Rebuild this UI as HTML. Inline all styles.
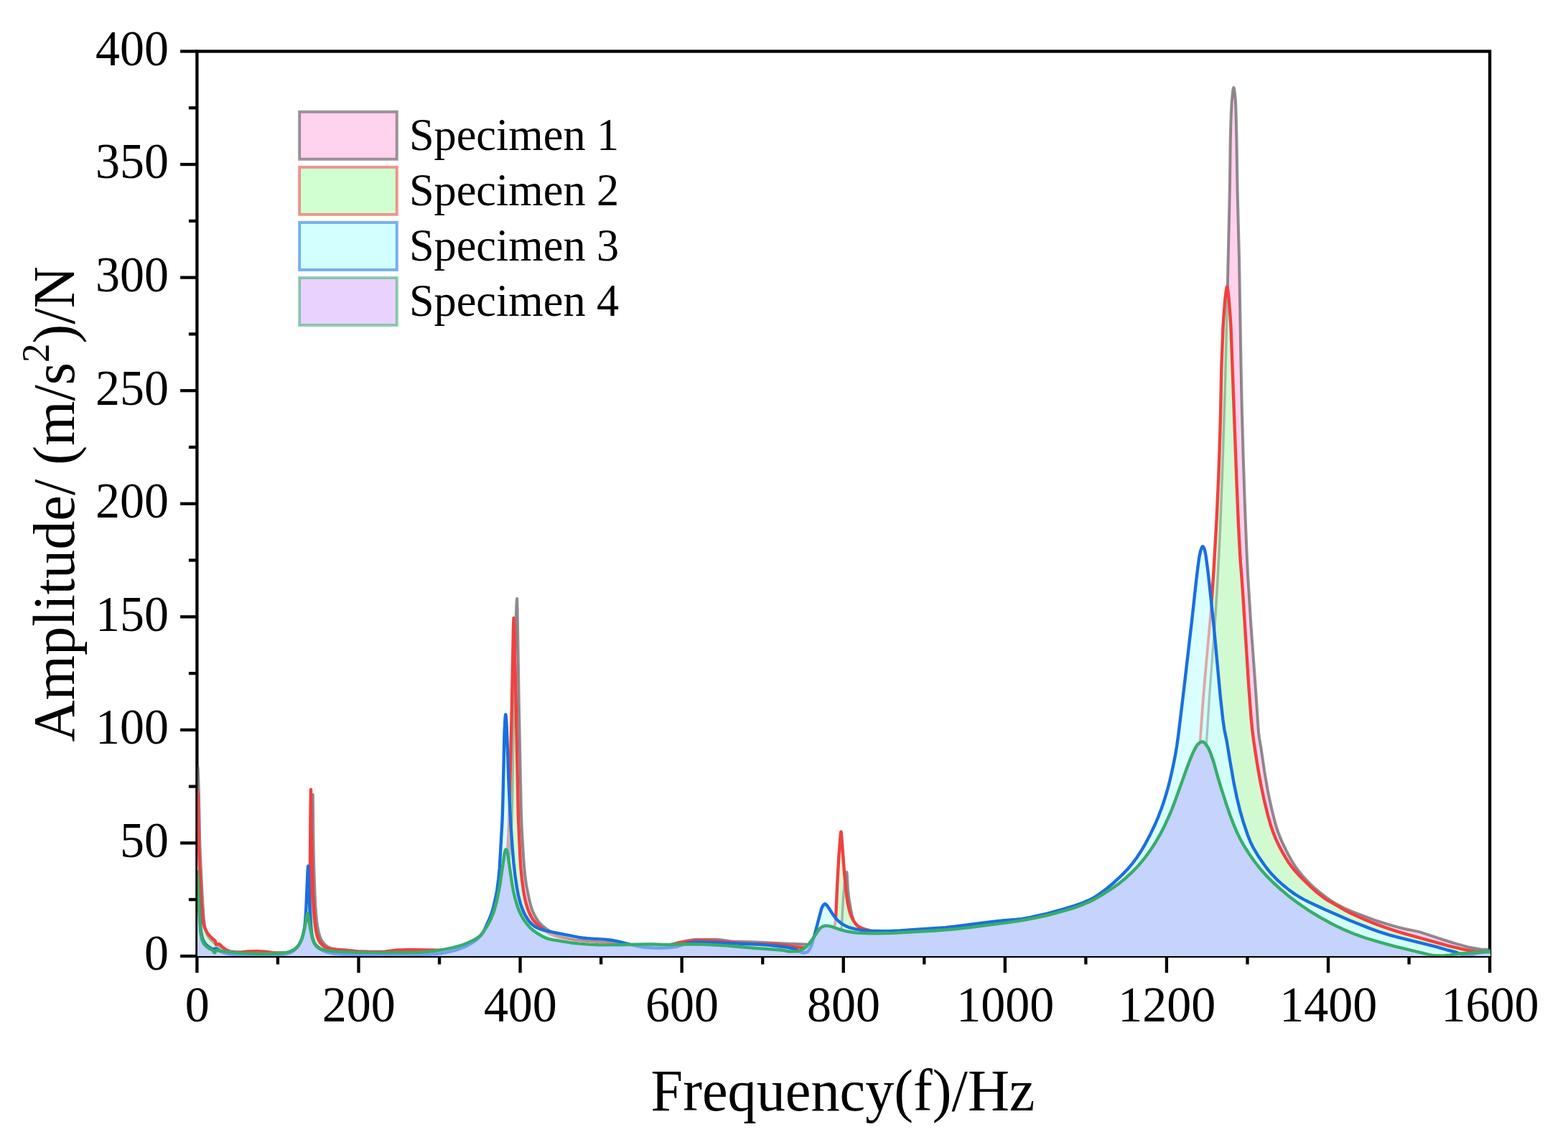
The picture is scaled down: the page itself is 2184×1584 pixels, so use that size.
<!DOCTYPE html>
<html><head><meta charset="utf-8"><title>Frequency response</title>
<style>html,body{margin:0;padding:0;background:#fff;}body{width:2184px;height:1584px;overflow:hidden;position:relative;}</style></head>
<body>
<svg width="2184" height="1584" viewBox="0 0 2184 1584" style="position:absolute;left:0;top:0">

<g stroke="#000" stroke-width="4.3" fill="none" stroke-linecap="butt">
<rect x="274.4" y="71.5" width="1800.70" height="1260.50"/>
<line x1="274.40" y1="1332.0" x2="274.40" y2="1355.30"/>
<line x1="386.94" y1="1332.0" x2="386.94" y2="1343.50"/>
<line x1="499.49" y1="1332.0" x2="499.49" y2="1355.30"/>
<line x1="612.03" y1="1332.0" x2="612.03" y2="1343.50"/>
<line x1="724.57" y1="1332.0" x2="724.57" y2="1355.30"/>
<line x1="837.12" y1="1332.0" x2="837.12" y2="1343.50"/>
<line x1="949.66" y1="1332.0" x2="949.66" y2="1355.30"/>
<line x1="1062.21" y1="1332.0" x2="1062.21" y2="1343.50"/>
<line x1="1174.75" y1="1332.0" x2="1174.75" y2="1355.30"/>
<line x1="1287.29" y1="1332.0" x2="1287.29" y2="1343.50"/>
<line x1="1399.84" y1="1332.0" x2="1399.84" y2="1355.30"/>
<line x1="1512.38" y1="1332.0" x2="1512.38" y2="1343.50"/>
<line x1="1624.93" y1="1332.0" x2="1624.93" y2="1355.30"/>
<line x1="1737.47" y1="1332.0" x2="1737.47" y2="1343.50"/>
<line x1="1850.01" y1="1332.0" x2="1850.01" y2="1355.30"/>
<line x1="1962.56" y1="1332.0" x2="1962.56" y2="1343.50"/>
<line x1="2075.10" y1="1332.0" x2="2075.10" y2="1355.30"/>
<line x1="274.4" y1="1332.00" x2="251.10" y2="1332.00"/>
<line x1="274.4" y1="1253.22" x2="262.90" y2="1253.22"/>
<line x1="274.4" y1="1174.44" x2="251.10" y2="1174.44"/>
<line x1="274.4" y1="1095.66" x2="262.90" y2="1095.66"/>
<line x1="274.4" y1="1016.88" x2="251.10" y2="1016.88"/>
<line x1="274.4" y1="938.09" x2="262.90" y2="938.09"/>
<line x1="274.4" y1="859.31" x2="251.10" y2="859.31"/>
<line x1="274.4" y1="780.53" x2="262.90" y2="780.53"/>
<line x1="274.4" y1="701.75" x2="251.10" y2="701.75"/>
<line x1="274.4" y1="622.97" x2="262.90" y2="622.97"/>
<line x1="274.4" y1="544.19" x2="251.10" y2="544.19"/>
<line x1="274.4" y1="465.41" x2="262.90" y2="465.41"/>
<line x1="274.4" y1="386.62" x2="251.10" y2="386.62"/>
<line x1="274.4" y1="307.84" x2="262.90" y2="307.84"/>
<line x1="274.4" y1="229.06" x2="251.10" y2="229.06"/>
<line x1="274.4" y1="150.28" x2="262.90" y2="150.28"/>
<line x1="274.4" y1="71.50" x2="251.10" y2="71.50"/>
</g>
<text transform="translate(274.70,1423.30) scale(1,1.035)" font-family="'Liberation Serif', serif" font-size="68" text-anchor="middle" fill="#000">0</text>
<text transform="translate(499.79,1423.30) scale(1,1.035)" font-family="'Liberation Serif', serif" font-size="68" text-anchor="middle" fill="#000">200</text>
<text transform="translate(724.87,1423.30) scale(1,1.035)" font-family="'Liberation Serif', serif" font-size="68" text-anchor="middle" fill="#000">400</text>
<text transform="translate(949.96,1423.30) scale(1,1.035)" font-family="'Liberation Serif', serif" font-size="68" text-anchor="middle" fill="#000">600</text>
<text transform="translate(1175.05,1423.30) scale(1,1.035)" font-family="'Liberation Serif', serif" font-size="68" text-anchor="middle" fill="#000">800</text>
<text transform="translate(1400.14,1423.30) scale(1,1.035)" font-family="'Liberation Serif', serif" font-size="68" text-anchor="middle" fill="#000">1000</text>
<text transform="translate(1625.23,1423.30) scale(1,1.035)" font-family="'Liberation Serif', serif" font-size="68" text-anchor="middle" fill="#000">1200</text>
<text transform="translate(1850.31,1423.30) scale(1,1.035)" font-family="'Liberation Serif', serif" font-size="68" text-anchor="middle" fill="#000">1400</text>
<text transform="translate(2075.40,1423.30) scale(1,1.035)" font-family="'Liberation Serif', serif" font-size="68" text-anchor="middle" fill="#000">1600</text>
<text transform="translate(234.90,1351.40) scale(1,1.035)" font-family="'Liberation Serif', serif" font-size="68" text-anchor="end" fill="#000">0</text>
<text transform="translate(234.90,1193.84) scale(1,1.035)" font-family="'Liberation Serif', serif" font-size="68" text-anchor="end" fill="#000">50</text>
<text transform="translate(234.90,1036.28) scale(1,1.035)" font-family="'Liberation Serif', serif" font-size="68" text-anchor="end" fill="#000">100</text>
<text transform="translate(234.90,878.71) scale(1,1.035)" font-family="'Liberation Serif', serif" font-size="68" text-anchor="end" fill="#000">150</text>
<text transform="translate(234.90,721.15) scale(1,1.035)" font-family="'Liberation Serif', serif" font-size="68" text-anchor="end" fill="#000">200</text>
<text transform="translate(234.90,563.59) scale(1,1.035)" font-family="'Liberation Serif', serif" font-size="68" text-anchor="end" fill="#000">250</text>
<text transform="translate(234.90,406.02) scale(1,1.035)" font-family="'Liberation Serif', serif" font-size="68" text-anchor="end" fill="#000">300</text>
<text transform="translate(234.90,248.46) scale(1,1.035)" font-family="'Liberation Serif', serif" font-size="68" text-anchor="end" fill="#000">350</text>
<text transform="translate(234.90,90.90) scale(1,1.035)" font-family="'Liberation Serif', serif" font-size="68" text-anchor="end" fill="#000">400</text>
<text transform="translate(1174.00,1547.40) scale(1,1.02)" font-family="'Liberation Serif', serif" font-size="80.3" text-anchor="middle" fill="#000">Frequency(f)/Hz</text>
<text transform="translate(103.40,702.40) rotate(-90) scale(1,1.02)" font-family="'Liberation Serif', serif" font-size="80.3" text-anchor="middle" fill="#000">Amplitude/ (m/s<tspan font-size="53" dy="-35">2</tspan><tspan dy="35">)/N</tspan></text>
<defs><clipPath id="pc"><rect x="275.0" y="60.0" width="1801.0" height="1272.0"/></clipPath>
<clipPath id="cS2"><path d="M274.4,1102.5 L274.8,1103.1 L275.4,1106.0 L275.6,1110.3 L277.0,1180.0 L277.8,1201.4 L280.4,1256.4 L281.6,1272.5 L282.6,1282.3 L283.2,1286.0 L284.4,1290.6 L285.6,1293.7 L287.4,1297.3 L289.6,1300.8 L292.2,1304.0 L296.4,1308.1 L298.4,1309.5 L299.4,1310.5 L300.0,1311.6 L300.9,1316.0 L303.8,1315.1 L305.0,1315.1 L306.2,1315.8 L309.0,1318.6 L312.4,1321.3 L315.5,1323.4 L318.8,1325.0 L321.2,1325.8 L327.4,1326.3 L336.0,1326.5 L345.6,1325.5 L358.0,1325.2 L369.2,1325.8 L379.6,1327.1 L383.6,1327.5 L412.6,1327.4 L418.8,1326.9 L424.8,1325.8 L426.0,1325.3 L427.0,1324.5 L428.8,1322.3 L429.2,1321.5 L429.6,1319.5 L430.2,1313.7 L431.0,1300.0 L431.2,1290.0 L432.6,1125.5 L433.0,1099.9 L433.6,1157.2 L434.6,1205.7 L435.8,1243.0 L437.3,1271.0 L439.0,1288.8 L440.2,1296.7 L441.4,1302.6 L443.0,1307.5 L444.8,1311.4 L447.0,1314.5 L449.6,1317.2 L452.4,1319.2 L456.6,1320.8 L461.4,1322.0 L467.2,1322.8 L498.0,1325.4 L514.8,1325.9 L530.4,1326.0 L536.4,1325.6 L551.4,1323.8 L565.8,1323.3 L581.8,1323.2 L623.0,1324.0 L633.6,1323.7 L655.4,1321.4 L665.6,1319.9 L670.2,1319.0 L673.2,1318.1 L676.6,1316.8 L680.0,1315.1 L686.0,1311.3 L688.0,1309.8 L689.8,1308.0 L691.4,1306.2 L692.8,1304.1 L694.4,1301.2 L695.4,1299.0 L696.8,1293.1 L698.2,1284.2 L699.8,1271.2 L701.4,1255.5 L704.0,1215.0 L706.4,1189.1 L707.2,1178.4 L708.2,1159.8 L709.0,1140.0 L712.8,989.0 L715.0,874.9 L715.5,861.0 L716.0,871.3 L718.4,966.8 L721.9,1140.0 L724.6,1197.4 L725.6,1211.0 L727.0,1225.0 L729.4,1243.0 L731.8,1254.8 L733.4,1260.8 L735.0,1265.7 L737.2,1271.5 L739.2,1275.8 L741.0,1279.0 L743.2,1282.2 L745.6,1285.0 L748.6,1288.1 L751.4,1290.5 L761.4,1298.3 L763.6,1299.8 L765.6,1301.0 L772.2,1303.6 L779.4,1305.8 L789.2,1307.8 L800.0,1309.5 L810.0,1310.6 L819.0,1311.4 L841.4,1312.6 L857.2,1313.7 L864.2,1314.4 L877.6,1316.3 L890.4,1317.1 L899.2,1317.4 L907.2,1317.5 L931.0,1316.9 L936.6,1316.1 L949.2,1313.1 L963.2,1310.9 L970.2,1310.3 L986.8,1310.1 L995.0,1310.6 L1027.4,1313.8 L1041.8,1314.8 L1050.4,1315.1 L1073.4,1315.1 L1081.0,1315.5 L1091.6,1316.6 L1107.2,1319.1 L1118.8,1320.3 L1126.2,1321.6 L1129.0,1322.0 L1134.4,1321.9 L1140.0,1321.5 L1145.6,1320.8 L1150.6,1319.8 L1152.6,1318.7 L1154.6,1316.9 L1156.8,1313.9 L1158.6,1310.7 L1159.6,1307.6 L1160.6,1303.4 L1162.0,1296.0 L1162.8,1290.7 L1163.8,1281.1 L1164.4,1272.6 L1166.2,1231.9 L1168.2,1196.7 L1170.6,1164.5 L1171.0,1160.4 L1171.4,1158.7 L1171.8,1160.6 L1172.2,1165.0 L1176.2,1218.1 L1178.4,1240.6 L1179.8,1251.8 L1180.9,1258.8 L1182.8,1267.5 L1184.6,1273.5 L1186.6,1278.5 L1188.8,1282.7 L1192.0,1287.1 L1193.6,1288.8 L1195.1,1290.1 L1198.4,1292.1 L1202.0,1293.7 L1205.0,1294.7 L1212.6,1296.7 L1221.8,1300.2 L1224.4,1300.9 L1229.4,1301.6 L1243.8,1303.1 L1257.0,1303.9 L1280.0,1304.7 L1298.0,1305.0 L1401.0,1305.0 L1416.4,1305.2 L1437.6,1305.7 L1487.0,1307.6 L1540.0,1309.3 L1573.2,1310.0 L1587.2,1309.8 L1593.6,1309.4 L1600.0,1308.7 L1608.2,1307.4 L1616.6,1305.8 L1621.2,1304.7 L1624.6,1303.3 L1628.4,1301.1 L1632.4,1298.0 L1636.4,1294.1 L1640.4,1289.5 L1642.4,1286.6 L1644.4,1282.9 L1646.4,1278.3 L1648.2,1273.3 L1650.2,1266.8 L1652.0,1260.0 L1653.6,1251.1 L1655.8,1232.9 L1659.0,1200.0 L1661.2,1173.0 L1666.2,1101.3 L1671.8,1030.9 L1675.4,979.9 L1678.0,948.4 L1685.8,860.8 L1688.2,829.6 L1690.4,796.9 L1694.6,723.7 L1697.2,666.0 L1698.6,626.5 L1700.0,579.2 L1701.4,510.3 L1703.5,456.4 L1704.4,441.6 L1706.4,416.4 L1708.0,403.6 L1708.6,400.5 L1709.1,399.5 L1709.6,400.6 L1710.0,402.7 L1711.6,415.7 L1713.6,441.7 L1714.5,456.4 L1722.6,674.3 L1724.8,727.0 L1726.6,763.3 L1727.8,782.9 L1729.4,802.7 L1731.6,834.4 L1739.2,954.8 L1742.4,997.7 L1744.2,1016.5 L1746.4,1033.6 L1751.6,1067.5 L1756.0,1091.9 L1760.6,1113.9 L1766.0,1136.0 L1770.2,1150.8 L1774.4,1162.5 L1777.6,1170.1 L1781.4,1178.1 L1786.2,1187.2 L1790.8,1195.1 L1795.0,1201.7 L1799.2,1207.6 L1803.8,1213.3 L1808.8,1218.9 L1815.8,1226.0 L1826.6,1236.3 L1833.8,1242.8 L1840.4,1248.1 L1845.4,1251.8 L1850.8,1255.2 L1872.6,1267.7 L1880.4,1271.8 L1889.0,1275.8 L1901.8,1281.4 L1913.4,1286.1 L1924.6,1290.4 L1935.4,1294.2 L1944.4,1297.1 L1955.2,1300.3 L2017.2,1317.6 L2035.0,1321.8 L2048.6,1324.5 L2054.6,1325.4 L2065.8,1326.1 L2076.0,1326.3 L2076.0,1332 L274.4,1332 Z"/></clipPath>
<clipPath id="cS3"><path d="M274.4,1222.0 L276.0,1239.8 L278.2,1278.1 L279.2,1290.7 L280.4,1300.5 L281.4,1305.2 L282.6,1309.0 L284.4,1312.7 L286.8,1315.8 L289.8,1318.5 L294.0,1321.2 L295.6,1322.0 L296.8,1322.3 L297.8,1322.2 L300.4,1321.4 L301.4,1321.5 L302.4,1322.0 L304.8,1323.9 L309.0,1326.3 L311.4,1327.3 L314.6,1328.2 L318.2,1329.0 L321.8,1329.5 L330.0,1330.1 L338.4,1330.5 L367.6,1330.8 L391.0,1330.2 L394.4,1329.9 L397.8,1329.2 L401.6,1328.1 L405.4,1326.8 L408.6,1324.9 L412.6,1321.4 L414.6,1319.0 L416.6,1316.0 L418.6,1312.4 L420.0,1309.3 L421.2,1306.0 L422.4,1301.7 L424.2,1292.2 L425.2,1282.8 L426.2,1268.0 L428.2,1222.0 L428.8,1210.1 L429.2,1206.5 L430.6,1248.3 L431.8,1274.0 L433.0,1290.8 L434.4,1302.5 L435.4,1306.9 L436.6,1310.9 L437.6,1313.4 L438.8,1315.4 L440.2,1317.1 L442.0,1318.8 L448.2,1323.4 L450.8,1325.0 L456.2,1326.8 L462.8,1328.2 L473.8,1329.5 L484.0,1330.2 L502.8,1330.6 L519.6,1330.8 L566.0,1330.8 L592.0,1330.2 L601.2,1329.6 L612.4,1328.5 L618.2,1327.6 L624.8,1326.2 L632.4,1324.4 L638.8,1322.3 L646.2,1319.5 L652.0,1316.7 L659.6,1312.3 L662.4,1310.3 L665.2,1308.0 L667.8,1305.5 L670.2,1302.9 L672.4,1300.0 L673.8,1297.7 L682.4,1278.4 L685.2,1271.0 L687.0,1264.6 L689.2,1255.3 L690.8,1248.0 L692.2,1240.4 L694.3,1225.0 L695.8,1209.4 L699.6,1142.3 L700.4,1116.6 L702.6,1019.8 L703.4,1003.4 L703.8,998.1 L704.3,995.3 L704.6,996.4 L705.0,1000.7 L705.8,1013.9 L708.4,1085.9 L710.0,1122.4 L711.2,1144.9 L713.6,1180.2 L715.4,1201.9 L717.4,1219.8 L719.8,1235.9 L722.0,1247.8 L725.0,1259.1 L726.6,1263.9 L728.4,1268.5 L730.2,1272.5 L732.2,1276.3 L736.6,1283.0 L738.6,1285.4 L740.6,1287.4 L743.6,1289.8 L746.8,1291.8 L749.8,1293.2 L753.6,1294.7 L759.0,1296.3 L767.2,1298.2 L805.2,1305.7 L810.6,1306.5 L818.0,1307.3 L827.0,1307.9 L841.8,1308.6 L851.2,1309.7 L861.4,1311.6 L880.0,1316.3 L889.2,1318.3 L895.0,1319.4 L899.8,1320.0 L909.2,1320.5 L918.6,1320.7 L924.8,1320.6 L931.4,1320.2 L941.8,1319.1 L957.6,1314.1 L965.0,1312.9 L970.9,1312.5 L993.4,1312.9 L1027.8,1314.6 L1057.6,1315.9 L1072.0,1316.9 L1082.4,1318.0 L1096.4,1319.8 L1103.2,1321.1 L1110.4,1323.5 L1116.0,1327.0 L1117.4,1327.4 L1118.6,1327.5 L1122.2,1327.0 L1124.0,1326.5 L1124.8,1326.1 L1125.8,1325.1 L1126.8,1323.8 L1129.4,1319.2 L1131.0,1314.7 L1133.8,1305.2 L1144.2,1266.0 L1145.0,1264.0 L1146.6,1261.4 L1147.8,1259.9 L1148.8,1259.3 L1149.4,1259.3 L1150.2,1259.7 L1151.8,1261.4 L1154.6,1265.2 L1158.2,1271.1 L1161.2,1275.5 L1163.6,1278.7 L1165.6,1281.0 L1168.8,1284.0 L1171.6,1286.3 L1175.0,1288.4 L1178.6,1290.4 L1182.0,1291.8 L1186.6,1293.2 L1191.4,1294.4 L1195.8,1295.2 L1204.2,1296.2 L1211.4,1296.8 L1228.6,1297.2 L1238.6,1297.1 L1253.6,1296.5 L1271.0,1295.2 L1301.4,1293.3 L1316.6,1292.2 L1330.2,1290.7 L1366.6,1286.0 L1382.8,1284.0 L1396.8,1282.5 L1415.2,1281.0 L1423.4,1280.1 L1435.6,1278.0 L1455.4,1273.5 L1482.4,1266.1 L1496.6,1261.8 L1508.0,1257.7 L1516.6,1254.1 L1523.4,1250.7 L1530.4,1246.2 L1542.0,1237.5 L1550.8,1230.2 L1562.2,1219.5 L1571.6,1209.7 L1577.8,1202.3 L1583.4,1194.7 L1590.0,1184.6 L1595.6,1175.1 L1602.2,1162.4 L1608.4,1149.5 L1613.4,1137.8 L1618.0,1125.7 L1621.2,1116.3 L1624.2,1106.7 L1627.0,1096.9 L1629.6,1086.8 L1632.2,1075.6 L1635.0,1062.3 L1637.2,1050.8 L1639.2,1039.0 L1641.4,1023.1 L1649.2,958.4 L1660.2,863.5 L1666.2,808.7 L1669.0,785.8 L1670.4,776.1 L1672.0,768.3 L1672.8,765.5 L1673.8,763.1 L1674.6,761.6 L1675.2,761.2 L1675.6,761.4 L1676.2,762.1 L1677.4,764.5 L1678.2,767.3 L1679.2,772.0 L1680.4,779.8 L1683.2,801.7 L1690.6,871.8 L1699.8,970.8 L1703.4,1003.0 L1705.4,1016.6 L1708.8,1033.0 L1713.2,1060.0 L1718.4,1089.9 L1722.8,1111.3 L1727.0,1128.6 L1731.8,1145.3 L1738.0,1163.8 L1741.8,1173.3 L1746.4,1182.4 L1751.8,1191.4 L1759.8,1203.3 L1764.8,1210.0 L1769.6,1215.9 L1775.4,1222.1 L1781.6,1228.2 L1788.0,1233.8 L1795.6,1239.9 L1802.8,1245.1 L1809.6,1249.5 L1815.6,1252.9 L1822.2,1256.3 L1844.6,1266.7 L1880.0,1282.2 L1908.6,1293.6 L1920.4,1297.9 L1934.6,1302.3 L1947.6,1305.8 L2001.0,1319.1 L2015.8,1323.5 L2027.2,1326.4 L2035.8,1329.8 L2039.2,1330.7 L2042.2,1331.0 L2046.8,1330.6 L2051.0,1330.0 L2056.0,1328.3 L2058.0,1327.8 L2067.8,1326.6 L2076.0,1326.2 L2076.0,1332 L274.4,1332 Z"/></clipPath>
<clipPath id="cS4"><path d="M274.4,1214.3 L275.0,1217.7 L275.6,1225.1 L277.4,1269.4 L278.2,1284.1 L279.4,1298.9 L280.6,1306.0 L281.4,1309.1 L282.4,1311.7 L283.8,1314.4 L285.4,1316.5 L287.4,1318.6 L289.8,1320.4 L291.8,1321.7 L294.8,1323.0 L296.3,1323.9 L298.2,1326.8 L298.8,1327.3 L299.4,1326.9 L300.8,1324.4 L301.4,1323.9 L303.2,1324.1 L307.2,1325.0 L311.0,1325.4 L331.4,1327.2 L342.4,1328.0 L361.0,1328.7 L381.4,1328.5 L388.8,1328.2 L399.2,1326.9 L402.2,1326.1 L405.2,1325.0 L409.8,1322.7 L411.6,1321.3 L413.4,1319.7 L416.4,1316.2 L419.0,1311.2 L421.2,1305.5 L423.0,1298.8 L424.6,1291.2 L427.4,1275.0 L427.8,1273.3 L428.2,1272.6 L428.6,1273.2 L429.2,1275.6 L432.4,1294.6 L434.4,1304.5 L435.6,1309.0 L437.2,1313.0 L438.4,1315.4 L439.4,1316.9 L441.2,1318.8 L443.0,1320.4 L444.4,1321.2 L446.0,1322.0 L451.4,1323.4 L459.2,1324.8 L465.6,1325.4 L477.2,1326.1 L493.6,1326.7 L529.8,1327.1 L564.6,1327.1 L583.0,1326.7 L591.0,1326.3 L602.0,1325.2 L615.0,1323.4 L623.8,1321.7 L631.0,1320.2 L638.6,1318.1 L645.2,1316.0 L652.2,1313.3 L659.8,1309.7 L664.2,1307.1 L667.8,1304.4 L669.6,1302.5 L672.4,1299.0 L676.8,1292.8 L681.0,1285.8 L684.4,1278.9 L686.8,1273.0 L688.8,1267.0 L691.2,1258.2 L693.2,1249.6 L696.4,1232.4 L702.6,1189.8 L703.2,1186.8 L703.8,1184.9 L704.4,1183.5 L704.8,1183.2 L705.4,1183.8 L706.0,1185.3 L706.8,1187.8 L707.4,1190.7 L713.2,1231.2 L715.4,1243.0 L717.2,1250.5 L719.8,1259.6 L722.0,1266.2 L724.0,1271.1 L727.0,1277.1 L730.4,1282.5 L734.6,1288.2 L738.8,1292.9 L743.0,1296.5 L747.8,1299.8 L756.2,1304.8 L761.4,1307.2 L765.4,1308.3 L770.4,1309.4 L794.0,1313.2 L806.4,1314.6 L820.2,1315.6 L833.4,1316.2 L842.0,1316.4 L862.6,1316.2 L901.2,1315.4 L909.6,1315.5 L930.4,1316.2 L949.4,1315.4 L976.8,1315.5 L1011.6,1317.4 L1049.6,1320.7 L1084.8,1323.3 L1090.8,1323.9 L1099.0,1325.5 L1111.2,1325.4 L1114.2,1324.5 L1118.6,1322.2 L1120.6,1320.9 L1122.8,1319.0 L1126.0,1315.8 L1128.6,1312.6 L1133.0,1306.4 L1137.8,1299.2 L1142.0,1293.4 L1143.2,1292.3 L1145.0,1291.3 L1147.2,1290.3 L1149.2,1289.7 L1152.0,1289.7 L1156.0,1290.4 L1160.6,1291.6 L1167.6,1294.2 L1172.4,1295.7 L1177.8,1297.1 L1182.4,1298.0 L1188.8,1299.0 L1194.0,1299.6 L1210.6,1300.3 L1225.6,1300.3 L1245.4,1299.8 L1262.6,1298.7 L1303.2,1296.5 L1318.6,1295.3 L1332.8,1294.1 L1350.6,1292.1 L1409.8,1284.4 L1427.8,1281.5 L1446.4,1277.9 L1457.0,1275.5 L1468.6,1272.6 L1483.8,1268.4 L1494.0,1265.4 L1501.6,1262.8 L1508.6,1260.1 L1516.0,1256.9 L1523.2,1253.4 L1534.2,1247.2 L1549.0,1237.7 L1559.0,1230.6 L1568.0,1223.2 L1577.4,1214.4 L1586.4,1204.9 L1594.8,1194.8 L1602.8,1183.9 L1609.8,1173.0 L1616.8,1160.8 L1622.4,1149.7 L1628.4,1136.6 L1632.2,1127.6 L1635.4,1119.4 L1652.8,1071.1 L1658.2,1056.8 L1661.4,1049.3 L1665.4,1041.3 L1667.8,1037.5 L1668.9,1036.4 L1671.8,1034.3 L1673.4,1033.6 L1675.0,1033.3 L1676.0,1033.6 L1677.2,1034.3 L1679.8,1037.3 L1683.0,1042.0 L1685.4,1047.3 L1690.6,1062.1 L1696.4,1083.1 L1700.4,1096.4 L1707.6,1118.9 L1713.0,1134.8 L1718.4,1148.9 L1723.0,1159.8 L1727.2,1168.4 L1732.0,1177.1 L1739.2,1188.5 L1747.2,1200.0 L1755.0,1210.0 L1763.0,1219.1 L1772.8,1229.0 L1783.8,1239.0 L1794.4,1247.9 L1807.0,1257.4 L1814.6,1262.8 L1822.0,1267.8 L1838.8,1278.1 L1854.6,1286.8 L1863.2,1291.1 L1871.6,1295.0 L1886.0,1301.0 L1901.2,1306.5 L1923.6,1313.2 L1942.6,1318.4 L1991.2,1330.1 L1995.6,1330.9 L2002.6,1331.4 L2007.2,1331.5 L2011.6,1331.3 L2018.8,1330.6 L2029.4,1329.1 L2034.6,1328.5 L2076.0,1325.3 L2076.0,1332 L274.4,1332 Z"/></clipPath>
<path id="lS1" d="M274.4,1066.5 L274.8,1066.9 L275.2,1067.8 L275.6,1070.0 L276.2,1082.2 L277.0,1107.1 L278.4,1176.7 L279.2,1198.0 L282.2,1256.3 L283.8,1279.1 L284.8,1288.2 L286.0,1295.0 L287.2,1299.3 L288.8,1303.2 L290.8,1306.4 L294.6,1310.6 L298.4,1314.0 L301.0,1315.9 L310.2,1322.0 L316.2,1325.2 L319.2,1326.4 L326.6,1327.2 L334.2,1327.5 L364.6,1327.5 L398.8,1328.0 L415.0,1327.7 L423.4,1327.1 L426.4,1326.7 L427.6,1326.2 L428.8,1325.4 L431.0,1323.0 L431.8,1320.2 L432.4,1315.7 L433.2,1305.3 L433.6,1296.4 L435.2,1135.6 L435.6,1110.7 L435.8,1107.0 L436.6,1180.0 L437.2,1207.4 L438.6,1246.9 L439.4,1262.4 L440.2,1273.3 L441.2,1283.2 L442.2,1290.4 L443.6,1297.8 L445.0,1303.1 L446.8,1307.7 L448.8,1311.3 L451.4,1314.7 L454.2,1317.5 L456.6,1319.2 L460.4,1320.8 L464.4,1322.0 L468.4,1322.6 L482.6,1323.6 L494.6,1325.1 L499.4,1325.5 L521.6,1326.3 L541.0,1326.5 L578.8,1325.5 L620.4,1325.0 L633.8,1324.3 L654.8,1322.5 L665.8,1321.2 L673.8,1319.5 L677.0,1318.4 L680.2,1316.9 L683.4,1315.1 L686.6,1313.0 L690.2,1310.4 L692.4,1308.4 L694.2,1306.4 L695.8,1304.1 L697.4,1301.2 L698.4,1299.0 L699.2,1295.8 L700.0,1291.5 L701.8,1278.6 L704.6,1254.6 L706.6,1232.6 L708.4,1209.7 L712.0,1158.8 L713.0,1140.0 L713.8,1106.4 L715.4,1005.4 L717.2,911.3 L719.0,851.6 L719.6,838.9 L720.0,834.6 L720.2,834.0 L720.6,846.1 L722.8,980.0 L726.0,1133.6 L726.8,1154.1 L728.6,1185.9 L729.6,1200.6 L731.2,1218.3 L732.1,1225.9 L733.4,1234.3 L737.6,1255.1 L739.8,1263.5 L741.6,1268.5 L743.4,1272.7 L745.6,1276.9 L748.2,1281.2 L750.6,1284.5 L753.2,1287.4 L756.6,1290.6 L760.8,1293.8 L765.4,1296.9 L769.6,1299.3 L776.8,1302.6 L783.8,1305.1 L793.4,1307.8 L801.4,1309.4 L809.8,1310.4 L818.6,1311.2 L841.2,1312.4 L855.2,1313.4 L863.6,1314.2 L877.8,1316.3 L893.0,1317.2 L902.2,1317.5 L910.8,1317.4 L920.6,1317.1 L930.8,1316.4 L935.0,1315.7 L944.6,1313.0 L958.0,1310.3 L964.8,1309.2 L970.6,1308.8 L998.2,1308.8 L1003.4,1309.3 L1015.6,1311.1 L1021.2,1311.6 L1053.0,1312.5 L1094.6,1314.6 L1122.2,1315.4 L1126.2,1315.9 L1135.2,1317.6 L1139.0,1318.0 L1144.2,1317.9 L1149.6,1317.6 L1154.8,1316.9 L1160.0,1316.0 L1161.8,1315.3 L1163.6,1313.9 L1165.6,1311.6 L1167.6,1308.7 L1168.6,1306.8 L1169.6,1304.2 L1171.2,1297.6 L1172.3,1291.0 L1172.6,1287.9 L1174.4,1251.6 L1175.4,1239.9 L1177.6,1221.1 L1178.6,1216.3 L1179.0,1215.3 L1179.4,1215.0 L1179.8,1218.2 L1181.0,1240.0 L1182.6,1252.7 L1185.0,1266.7 L1186.6,1274.5 L1188.8,1282.0 L1190.6,1286.3 L1192.4,1288.8 L1194.6,1291.0 L1197.6,1293.0 L1201.2,1294.8 L1206.0,1296.6 L1211.2,1298.1 L1226.0,1301.2 L1233.0,1302.4 L1239.0,1302.9 L1257.2,1303.7 L1275.2,1304.2 L1297.0,1304.5 L1412.2,1304.6 L1434.4,1305.2 L1496.2,1307.4 L1555.2,1308.7 L1590.6,1309.0 L1597.0,1308.8 L1603.6,1308.2 L1610.4,1307.3 L1617.4,1306.0 L1624.6,1304.4 L1631.2,1302.6 L1634.6,1301.3 L1638.0,1299.3 L1640.8,1297.3 L1643.6,1294.9 L1646.4,1292.1 L1649.0,1289.2 L1651.8,1285.4 L1654.6,1279.6 L1656.4,1274.9 L1658.2,1269.4 L1662.0,1255.0 L1663.6,1246.5 L1665.4,1233.5 L1669.0,1200.0 L1671.0,1175.7 L1680.2,1039.6 L1684.4,972.4 L1693.0,855.9 L1695.8,811.5 L1698.2,765.7 L1700.4,714.8 L1702.8,649.7 L1706.0,550.0 L1708.2,465.9 L1712.4,283.5 L1713.0,251.5 L1713.6,202.7 L1714.2,175.8 L1714.8,158.1 L1715.6,142.5 L1717.2,126.3 L1717.8,123.0 L1718.3,122.0 L1718.8,122.8 L1719.2,124.5 L1720.4,134.3 L1721.0,141.4 L1721.6,157.3 L1722.4,190.9 L1723.6,265.7 L1726.0,359.2 L1728.6,511.6 L1729.8,567.9 L1731.8,639.5 L1733.8,699.9 L1736.4,766.1 L1738.2,803.5 L1742.4,870.0 L1749.4,966.6 L1752.6,1014.9 L1753.2,1021.8 L1754.2,1029.1 L1756.4,1041.7 L1761.4,1075.9 L1765.4,1098.8 L1768.2,1112.9 L1771.2,1126.4 L1774.6,1140.4 L1777.4,1150.6 L1780.0,1158.5 L1783.2,1166.9 L1786.6,1174.7 L1791.2,1184.2 L1795.8,1193.1 L1800.2,1200.8 L1804.2,1207.1 L1808.6,1213.1 L1813.6,1219.3 L1819.0,1225.4 L1825.2,1231.7 L1831.6,1237.6 L1838.8,1243.6 L1846.8,1249.8 L1853.8,1254.7 L1860.2,1258.7 L1871.6,1264.8 L1883.6,1270.1 L1916.8,1282.5 L1932.2,1287.4 L1944.4,1290.9 L1955.6,1293.8 L1962.6,1295.3 L1973.4,1297.4 L1977.8,1298.4 L2002.6,1306.7 L2019.2,1312.0 L2029.6,1315.1 L2044.4,1319.1 L2050.8,1320.5 L2062.4,1322.4 L2066.4,1322.7 L2076.0,1322.7"/>
<path id="lS2" d="M274.4,1102.5 L274.8,1103.1 L275.4,1106.0 L275.6,1110.3 L277.0,1180.0 L277.8,1201.4 L280.4,1256.4 L281.6,1272.5 L282.6,1282.3 L283.2,1286.0 L284.4,1290.6 L285.6,1293.7 L287.4,1297.3 L289.6,1300.8 L292.2,1304.0 L296.4,1308.1 L298.4,1309.5 L299.4,1310.5 L300.0,1311.6 L300.9,1316.0 L303.8,1315.1 L305.0,1315.1 L306.2,1315.8 L309.0,1318.6 L312.4,1321.3 L315.5,1323.4 L318.8,1325.0 L321.2,1325.8 L327.4,1326.3 L336.0,1326.5 L345.6,1325.5 L358.0,1325.2 L369.2,1325.8 L379.6,1327.1 L383.6,1327.5 L412.6,1327.4 L418.8,1326.9 L424.8,1325.8 L426.0,1325.3 L427.0,1324.5 L428.8,1322.3 L429.2,1321.5 L429.6,1319.5 L430.2,1313.7 L431.0,1300.0 L431.2,1290.0 L432.6,1125.5 L433.0,1099.9 L433.6,1157.2 L434.6,1205.7 L435.8,1243.0 L437.3,1271.0 L439.0,1288.8 L440.2,1296.7 L441.4,1302.6 L443.0,1307.5 L444.8,1311.4 L447.0,1314.5 L449.6,1317.2 L452.4,1319.2 L456.6,1320.8 L461.4,1322.0 L467.2,1322.8 L498.0,1325.4 L514.8,1325.9 L530.4,1326.0 L536.4,1325.6 L551.4,1323.8 L565.8,1323.3 L581.8,1323.2 L623.0,1324.0 L633.6,1323.7 L655.4,1321.4 L665.6,1319.9 L670.2,1319.0 L673.2,1318.1 L676.6,1316.8 L680.0,1315.1 L686.0,1311.3 L688.0,1309.8 L689.8,1308.0 L691.4,1306.2 L692.8,1304.1 L694.4,1301.2 L695.4,1299.0 L696.8,1293.1 L698.2,1284.2 L699.8,1271.2 L701.4,1255.5 L704.0,1215.0 L706.4,1189.1 L707.2,1178.4 L708.2,1159.8 L709.0,1140.0 L712.8,989.0 L715.0,874.9 L715.5,861.0 L716.0,871.3 L718.4,966.8 L721.9,1140.0 L724.6,1197.4 L725.6,1211.0 L727.0,1225.0 L729.4,1243.0 L731.8,1254.8 L733.4,1260.8 L735.0,1265.7 L737.2,1271.5 L739.2,1275.8 L741.0,1279.0 L743.2,1282.2 L745.6,1285.0 L748.6,1288.1 L751.4,1290.5 L761.4,1298.3 L763.6,1299.8 L765.6,1301.0 L772.2,1303.6 L779.4,1305.8 L789.2,1307.8 L800.0,1309.5 L810.0,1310.6 L819.0,1311.4 L841.4,1312.6 L857.2,1313.7 L864.2,1314.4 L877.6,1316.3 L890.4,1317.1 L899.2,1317.4 L907.2,1317.5 L931.0,1316.9 L936.6,1316.1 L949.2,1313.1 L963.2,1310.9 L970.2,1310.3 L986.8,1310.1 L995.0,1310.6 L1027.4,1313.8 L1041.8,1314.8 L1050.4,1315.1 L1073.4,1315.1 L1081.0,1315.5 L1091.6,1316.6 L1107.2,1319.1 L1118.8,1320.3 L1126.2,1321.6 L1129.0,1322.0 L1134.4,1321.9 L1140.0,1321.5 L1145.6,1320.8 L1150.6,1319.8 L1152.6,1318.7 L1154.6,1316.9 L1156.8,1313.9 L1158.6,1310.7 L1159.6,1307.6 L1160.6,1303.4 L1162.0,1296.0 L1162.8,1290.7 L1163.8,1281.1 L1164.4,1272.6 L1166.2,1231.9 L1168.2,1196.7 L1170.6,1164.5 L1171.0,1160.4 L1171.4,1158.7 L1171.8,1160.6 L1172.2,1165.0 L1176.2,1218.1 L1178.4,1240.6 L1179.8,1251.8 L1180.9,1258.8 L1182.8,1267.5 L1184.6,1273.5 L1186.6,1278.5 L1188.8,1282.7 L1192.0,1287.1 L1193.6,1288.8 L1195.1,1290.1 L1198.4,1292.1 L1202.0,1293.7 L1205.0,1294.7 L1212.6,1296.7 L1221.8,1300.2 L1224.4,1300.9 L1229.4,1301.6 L1243.8,1303.1 L1257.0,1303.9 L1280.0,1304.7 L1298.0,1305.0 L1401.0,1305.0 L1416.4,1305.2 L1437.6,1305.7 L1487.0,1307.6 L1540.0,1309.3 L1573.2,1310.0 L1587.2,1309.8 L1593.6,1309.4 L1600.0,1308.7 L1608.2,1307.4 L1616.6,1305.8 L1621.2,1304.7 L1624.6,1303.3 L1628.4,1301.1 L1632.4,1298.0 L1636.4,1294.1 L1640.4,1289.5 L1642.4,1286.6 L1644.4,1282.9 L1646.4,1278.3 L1648.2,1273.3 L1650.2,1266.8 L1652.0,1260.0 L1653.6,1251.1 L1655.8,1232.9 L1659.0,1200.0 L1661.2,1173.0 L1666.2,1101.3 L1671.8,1030.9 L1675.4,979.9 L1678.0,948.4 L1685.8,860.8 L1688.2,829.6 L1690.4,796.9 L1694.6,723.7 L1697.2,666.0 L1698.6,626.5 L1700.0,579.2 L1701.4,510.3 L1703.5,456.4 L1704.4,441.6 L1706.4,416.4 L1708.0,403.6 L1708.6,400.5 L1709.1,399.5 L1709.6,400.6 L1710.0,402.7 L1711.6,415.7 L1713.6,441.7 L1714.5,456.4 L1722.6,674.3 L1724.8,727.0 L1726.6,763.3 L1727.8,782.9 L1729.4,802.7 L1731.6,834.4 L1739.2,954.8 L1742.4,997.7 L1744.2,1016.5 L1746.4,1033.6 L1751.6,1067.5 L1756.0,1091.9 L1760.6,1113.9 L1766.0,1136.0 L1770.2,1150.8 L1774.4,1162.5 L1777.6,1170.1 L1781.4,1178.1 L1786.2,1187.2 L1790.8,1195.1 L1795.0,1201.7 L1799.2,1207.6 L1803.8,1213.3 L1808.8,1218.9 L1815.8,1226.0 L1826.6,1236.3 L1833.8,1242.8 L1840.4,1248.1 L1845.4,1251.8 L1850.8,1255.2 L1872.6,1267.7 L1880.4,1271.8 L1889.0,1275.8 L1901.8,1281.4 L1913.4,1286.1 L1924.6,1290.4 L1935.4,1294.2 L1944.4,1297.1 L1955.2,1300.3 L2017.2,1317.6 L2035.0,1321.8 L2048.6,1324.5 L2054.6,1325.4 L2065.8,1326.1 L2076.0,1326.3"/>
<path id="lS3" d="M274.4,1222.0 L276.0,1239.8 L278.2,1278.1 L279.2,1290.7 L280.4,1300.5 L281.4,1305.2 L282.6,1309.0 L284.4,1312.7 L286.8,1315.8 L289.8,1318.5 L294.0,1321.2 L295.6,1322.0 L296.8,1322.3 L297.8,1322.2 L300.4,1321.4 L301.4,1321.5 L302.4,1322.0 L304.8,1323.9 L309.0,1326.3 L311.4,1327.3 L314.6,1328.2 L318.2,1329.0 L321.8,1329.5 L330.0,1330.1 L338.4,1330.5 L367.6,1330.8 L391.0,1330.2 L394.4,1329.9 L397.8,1329.2 L401.6,1328.1 L405.4,1326.8 L408.6,1324.9 L412.6,1321.4 L414.6,1319.0 L416.6,1316.0 L418.6,1312.4 L420.0,1309.3 L421.2,1306.0 L422.4,1301.7 L424.2,1292.2 L425.2,1282.8 L426.2,1268.0 L428.2,1222.0 L428.8,1210.1 L429.2,1206.5 L430.6,1248.3 L431.8,1274.0 L433.0,1290.8 L434.4,1302.5 L435.4,1306.9 L436.6,1310.9 L437.6,1313.4 L438.8,1315.4 L440.2,1317.1 L442.0,1318.8 L448.2,1323.4 L450.8,1325.0 L456.2,1326.8 L462.8,1328.2 L473.8,1329.5 L484.0,1330.2 L502.8,1330.6 L519.6,1330.8 L566.0,1330.8 L592.0,1330.2 L601.2,1329.6 L612.4,1328.5 L618.2,1327.6 L624.8,1326.2 L632.4,1324.4 L638.8,1322.3 L646.2,1319.5 L652.0,1316.7 L659.6,1312.3 L662.4,1310.3 L665.2,1308.0 L667.8,1305.5 L670.2,1302.9 L672.4,1300.0 L673.8,1297.7 L682.4,1278.4 L685.2,1271.0 L687.0,1264.6 L689.2,1255.3 L690.8,1248.0 L692.2,1240.4 L694.3,1225.0 L695.8,1209.4 L699.6,1142.3 L700.4,1116.6 L702.6,1019.8 L703.4,1003.4 L703.8,998.1 L704.3,995.3 L704.6,996.4 L705.0,1000.7 L705.8,1013.9 L708.4,1085.9 L710.0,1122.4 L711.2,1144.9 L713.6,1180.2 L715.4,1201.9 L717.4,1219.8 L719.8,1235.9 L722.0,1247.8 L725.0,1259.1 L726.6,1263.9 L728.4,1268.5 L730.2,1272.5 L732.2,1276.3 L736.6,1283.0 L738.6,1285.4 L740.6,1287.4 L743.6,1289.8 L746.8,1291.8 L749.8,1293.2 L753.6,1294.7 L759.0,1296.3 L767.2,1298.2 L805.2,1305.7 L810.6,1306.5 L818.0,1307.3 L827.0,1307.9 L841.8,1308.6 L851.2,1309.7 L861.4,1311.6 L880.0,1316.3 L889.2,1318.3 L895.0,1319.4 L899.8,1320.0 L909.2,1320.5 L918.6,1320.7 L924.8,1320.6 L931.4,1320.2 L941.8,1319.1 L957.6,1314.1 L965.0,1312.9 L970.9,1312.5 L993.4,1312.9 L1027.8,1314.6 L1057.6,1315.9 L1072.0,1316.9 L1082.4,1318.0 L1096.4,1319.8 L1103.2,1321.1 L1110.4,1323.5 L1116.0,1327.0 L1117.4,1327.4 L1118.6,1327.5 L1122.2,1327.0 L1124.0,1326.5 L1124.8,1326.1 L1125.8,1325.1 L1126.8,1323.8 L1129.4,1319.2 L1131.0,1314.7 L1133.8,1305.2 L1144.2,1266.0 L1145.0,1264.0 L1146.6,1261.4 L1147.8,1259.9 L1148.8,1259.3 L1149.4,1259.3 L1150.2,1259.7 L1151.8,1261.4 L1154.6,1265.2 L1158.2,1271.1 L1161.2,1275.5 L1163.6,1278.7 L1165.6,1281.0 L1168.8,1284.0 L1171.6,1286.3 L1175.0,1288.4 L1178.6,1290.4 L1182.0,1291.8 L1186.6,1293.2 L1191.4,1294.4 L1195.8,1295.2 L1204.2,1296.2 L1211.4,1296.8 L1228.6,1297.2 L1238.6,1297.1 L1253.6,1296.5 L1271.0,1295.2 L1301.4,1293.3 L1316.6,1292.2 L1330.2,1290.7 L1366.6,1286.0 L1382.8,1284.0 L1396.8,1282.5 L1415.2,1281.0 L1423.4,1280.1 L1435.6,1278.0 L1455.4,1273.5 L1482.4,1266.1 L1496.6,1261.8 L1508.0,1257.7 L1516.6,1254.1 L1523.4,1250.7 L1530.4,1246.2 L1542.0,1237.5 L1550.8,1230.2 L1562.2,1219.5 L1571.6,1209.7 L1577.8,1202.3 L1583.4,1194.7 L1590.0,1184.6 L1595.6,1175.1 L1602.2,1162.4 L1608.4,1149.5 L1613.4,1137.8 L1618.0,1125.7 L1621.2,1116.3 L1624.2,1106.7 L1627.0,1096.9 L1629.6,1086.8 L1632.2,1075.6 L1635.0,1062.3 L1637.2,1050.8 L1639.2,1039.0 L1641.4,1023.1 L1649.2,958.4 L1660.2,863.5 L1666.2,808.7 L1669.0,785.8 L1670.4,776.1 L1672.0,768.3 L1672.8,765.5 L1673.8,763.1 L1674.6,761.6 L1675.2,761.2 L1675.6,761.4 L1676.2,762.1 L1677.4,764.5 L1678.2,767.3 L1679.2,772.0 L1680.4,779.8 L1683.2,801.7 L1690.6,871.8 L1699.8,970.8 L1703.4,1003.0 L1705.4,1016.6 L1708.8,1033.0 L1713.2,1060.0 L1718.4,1089.9 L1722.8,1111.3 L1727.0,1128.6 L1731.8,1145.3 L1738.0,1163.8 L1741.8,1173.3 L1746.4,1182.4 L1751.8,1191.4 L1759.8,1203.3 L1764.8,1210.0 L1769.6,1215.9 L1775.4,1222.1 L1781.6,1228.2 L1788.0,1233.8 L1795.6,1239.9 L1802.8,1245.1 L1809.6,1249.5 L1815.6,1252.9 L1822.2,1256.3 L1844.6,1266.7 L1880.0,1282.2 L1908.6,1293.6 L1920.4,1297.9 L1934.6,1302.3 L1947.6,1305.8 L2001.0,1319.1 L2015.8,1323.5 L2027.2,1326.4 L2035.8,1329.8 L2039.2,1330.7 L2042.2,1331.0 L2046.8,1330.6 L2051.0,1330.0 L2056.0,1328.3 L2058.0,1327.8 L2067.8,1326.6 L2076.0,1326.2"/>
<path id="lS4" d="M274.4,1214.3 L275.0,1217.7 L275.6,1225.1 L277.4,1269.4 L278.2,1284.1 L279.4,1298.9 L280.6,1306.0 L281.4,1309.1 L282.4,1311.7 L283.8,1314.4 L285.4,1316.5 L287.4,1318.6 L289.8,1320.4 L291.8,1321.7 L294.8,1323.0 L296.3,1323.9 L298.2,1326.8 L298.8,1327.3 L299.4,1326.9 L300.8,1324.4 L301.4,1323.9 L303.2,1324.1 L307.2,1325.0 L311.0,1325.4 L331.4,1327.2 L342.4,1328.0 L361.0,1328.7 L381.4,1328.5 L388.8,1328.2 L399.2,1326.9 L402.2,1326.1 L405.2,1325.0 L409.8,1322.7 L411.6,1321.3 L413.4,1319.7 L416.4,1316.2 L419.0,1311.2 L421.2,1305.5 L423.0,1298.8 L424.6,1291.2 L427.4,1275.0 L427.8,1273.3 L428.2,1272.6 L428.6,1273.2 L429.2,1275.6 L432.4,1294.6 L434.4,1304.5 L435.6,1309.0 L437.2,1313.0 L438.4,1315.4 L439.4,1316.9 L441.2,1318.8 L443.0,1320.4 L444.4,1321.2 L446.0,1322.0 L451.4,1323.4 L459.2,1324.8 L465.6,1325.4 L477.2,1326.1 L493.6,1326.7 L529.8,1327.1 L564.6,1327.1 L583.0,1326.7 L591.0,1326.3 L602.0,1325.2 L615.0,1323.4 L623.8,1321.7 L631.0,1320.2 L638.6,1318.1 L645.2,1316.0 L652.2,1313.3 L659.8,1309.7 L664.2,1307.1 L667.8,1304.4 L669.6,1302.5 L672.4,1299.0 L676.8,1292.8 L681.0,1285.8 L684.4,1278.9 L686.8,1273.0 L688.8,1267.0 L691.2,1258.2 L693.2,1249.6 L696.4,1232.4 L702.6,1189.8 L703.2,1186.8 L703.8,1184.9 L704.4,1183.5 L704.8,1183.2 L705.4,1183.8 L706.0,1185.3 L706.8,1187.8 L707.4,1190.7 L713.2,1231.2 L715.4,1243.0 L717.2,1250.5 L719.8,1259.6 L722.0,1266.2 L724.0,1271.1 L727.0,1277.1 L730.4,1282.5 L734.6,1288.2 L738.8,1292.9 L743.0,1296.5 L747.8,1299.8 L756.2,1304.8 L761.4,1307.2 L765.4,1308.3 L770.4,1309.4 L794.0,1313.2 L806.4,1314.6 L820.2,1315.6 L833.4,1316.2 L842.0,1316.4 L862.6,1316.2 L901.2,1315.4 L909.6,1315.5 L930.4,1316.2 L949.4,1315.4 L976.8,1315.5 L1011.6,1317.4 L1049.6,1320.7 L1084.8,1323.3 L1090.8,1323.9 L1099.0,1325.5 L1111.2,1325.4 L1114.2,1324.5 L1118.6,1322.2 L1120.6,1320.9 L1122.8,1319.0 L1126.0,1315.8 L1128.6,1312.6 L1133.0,1306.4 L1137.8,1299.2 L1142.0,1293.4 L1143.2,1292.3 L1145.0,1291.3 L1147.2,1290.3 L1149.2,1289.7 L1152.0,1289.7 L1156.0,1290.4 L1160.6,1291.6 L1167.6,1294.2 L1172.4,1295.7 L1177.8,1297.1 L1182.4,1298.0 L1188.8,1299.0 L1194.0,1299.6 L1210.6,1300.3 L1225.6,1300.3 L1245.4,1299.8 L1262.6,1298.7 L1303.2,1296.5 L1318.6,1295.3 L1332.8,1294.1 L1350.6,1292.1 L1409.8,1284.4 L1427.8,1281.5 L1446.4,1277.9 L1457.0,1275.5 L1468.6,1272.6 L1483.8,1268.4 L1494.0,1265.4 L1501.6,1262.8 L1508.6,1260.1 L1516.0,1256.9 L1523.2,1253.4 L1534.2,1247.2 L1549.0,1237.7 L1559.0,1230.6 L1568.0,1223.2 L1577.4,1214.4 L1586.4,1204.9 L1594.8,1194.8 L1602.8,1183.9 L1609.8,1173.0 L1616.8,1160.8 L1622.4,1149.7 L1628.4,1136.6 L1632.2,1127.6 L1635.4,1119.4 L1652.8,1071.1 L1658.2,1056.8 L1661.4,1049.3 L1665.4,1041.3 L1667.8,1037.5 L1668.9,1036.4 L1671.8,1034.3 L1673.4,1033.6 L1675.0,1033.3 L1676.0,1033.6 L1677.2,1034.3 L1679.8,1037.3 L1683.0,1042.0 L1685.4,1047.3 L1690.6,1062.1 L1696.4,1083.1 L1700.4,1096.4 L1707.6,1118.9 L1713.0,1134.8 L1718.4,1148.9 L1723.0,1159.8 L1727.2,1168.4 L1732.0,1177.1 L1739.2,1188.5 L1747.2,1200.0 L1755.0,1210.0 L1763.0,1219.1 L1772.8,1229.0 L1783.8,1239.0 L1794.4,1247.9 L1807.0,1257.4 L1814.6,1262.8 L1822.0,1267.8 L1838.8,1278.1 L1854.6,1286.8 L1863.2,1291.1 L1871.6,1295.0 L1886.0,1301.0 L1901.2,1306.5 L1923.6,1313.2 L1942.6,1318.4 L1991.2,1330.1 L1995.6,1330.9 L2002.6,1331.4 L2007.2,1331.5 L2011.6,1331.3 L2018.8,1330.6 L2029.4,1329.1 L2034.6,1328.5 L2076.0,1325.3"/>
</defs>
<rect x="275.0" y="1329" width="1801.0" height="3" fill="#fff"/>
<g clip-path="url(#pc)" stroke-linejoin="round" stroke-linecap="round" fill="none">
<path d="M274.4,1066.5 L274.8,1066.9 L275.2,1067.8 L275.6,1070.0 L276.2,1082.2 L277.0,1107.1 L278.4,1176.7 L279.2,1198.0 L282.2,1256.3 L283.8,1279.1 L284.8,1288.2 L286.0,1295.0 L287.2,1299.3 L288.8,1303.2 L290.8,1306.4 L294.6,1310.6 L298.4,1314.0 L301.0,1315.9 L310.2,1322.0 L316.2,1325.2 L319.2,1326.4 L326.6,1327.2 L334.2,1327.5 L364.6,1327.5 L398.8,1328.0 L415.0,1327.7 L423.4,1327.1 L426.4,1326.7 L427.6,1326.2 L428.8,1325.4 L431.0,1323.0 L431.8,1320.2 L432.4,1315.7 L433.2,1305.3 L433.6,1296.4 L435.2,1135.6 L435.6,1110.7 L435.8,1107.0 L436.6,1180.0 L437.2,1207.4 L438.6,1246.9 L439.4,1262.4 L440.2,1273.3 L441.2,1283.2 L442.2,1290.4 L443.6,1297.8 L445.0,1303.1 L446.8,1307.7 L448.8,1311.3 L451.4,1314.7 L454.2,1317.5 L456.6,1319.2 L460.4,1320.8 L464.4,1322.0 L468.4,1322.6 L482.6,1323.6 L494.6,1325.1 L499.4,1325.5 L521.6,1326.3 L541.0,1326.5 L578.8,1325.5 L620.4,1325.0 L633.8,1324.3 L654.8,1322.5 L665.8,1321.2 L673.8,1319.5 L677.0,1318.4 L680.2,1316.9 L683.4,1315.1 L686.6,1313.0 L690.2,1310.4 L692.4,1308.4 L694.2,1306.4 L695.8,1304.1 L697.4,1301.2 L698.4,1299.0 L699.2,1295.8 L700.0,1291.5 L701.8,1278.6 L704.6,1254.6 L706.6,1232.6 L708.4,1209.7 L712.0,1158.8 L713.0,1140.0 L713.8,1106.4 L715.4,1005.4 L717.2,911.3 L719.0,851.6 L719.6,838.9 L720.0,834.6 L720.2,834.0 L720.6,846.1 L722.8,980.0 L726.0,1133.6 L726.8,1154.1 L728.6,1185.9 L729.6,1200.6 L731.2,1218.3 L732.1,1225.9 L733.4,1234.3 L737.6,1255.1 L739.8,1263.5 L741.6,1268.5 L743.4,1272.7 L745.6,1276.9 L748.2,1281.2 L750.6,1284.5 L753.2,1287.4 L756.6,1290.6 L760.8,1293.8 L765.4,1296.9 L769.6,1299.3 L776.8,1302.6 L783.8,1305.1 L793.4,1307.8 L801.4,1309.4 L809.8,1310.4 L818.6,1311.2 L841.2,1312.4 L855.2,1313.4 L863.6,1314.2 L877.8,1316.3 L893.0,1317.2 L902.2,1317.5 L910.8,1317.4 L920.6,1317.1 L930.8,1316.4 L935.0,1315.7 L944.6,1313.0 L958.0,1310.3 L964.8,1309.2 L970.6,1308.8 L998.2,1308.8 L1003.4,1309.3 L1015.6,1311.1 L1021.2,1311.6 L1053.0,1312.5 L1094.6,1314.6 L1122.2,1315.4 L1126.2,1315.9 L1135.2,1317.6 L1139.0,1318.0 L1144.2,1317.9 L1149.6,1317.6 L1154.8,1316.9 L1160.0,1316.0 L1161.8,1315.3 L1163.6,1313.9 L1165.6,1311.6 L1167.6,1308.7 L1168.6,1306.8 L1169.6,1304.2 L1171.2,1297.6 L1172.3,1291.0 L1172.6,1287.9 L1174.4,1251.6 L1175.4,1239.9 L1177.6,1221.1 L1178.6,1216.3 L1179.0,1215.3 L1179.4,1215.0 L1179.8,1218.2 L1181.0,1240.0 L1182.6,1252.7 L1185.0,1266.7 L1186.6,1274.5 L1188.8,1282.0 L1190.6,1286.3 L1192.4,1288.8 L1194.6,1291.0 L1197.6,1293.0 L1201.2,1294.8 L1206.0,1296.6 L1211.2,1298.1 L1226.0,1301.2 L1233.0,1302.4 L1239.0,1302.9 L1257.2,1303.7 L1275.2,1304.2 L1297.0,1304.5 L1412.2,1304.6 L1434.4,1305.2 L1496.2,1307.4 L1555.2,1308.7 L1590.6,1309.0 L1597.0,1308.8 L1603.6,1308.2 L1610.4,1307.3 L1617.4,1306.0 L1624.6,1304.4 L1631.2,1302.6 L1634.6,1301.3 L1638.0,1299.3 L1640.8,1297.3 L1643.6,1294.9 L1646.4,1292.1 L1649.0,1289.2 L1651.8,1285.4 L1654.6,1279.6 L1656.4,1274.9 L1658.2,1269.4 L1662.0,1255.0 L1663.6,1246.5 L1665.4,1233.5 L1669.0,1200.0 L1671.0,1175.7 L1680.2,1039.6 L1684.4,972.4 L1693.0,855.9 L1695.8,811.5 L1698.2,765.7 L1700.4,714.8 L1702.8,649.7 L1706.0,550.0 L1708.2,465.9 L1712.4,283.5 L1713.0,251.5 L1713.6,202.7 L1714.2,175.8 L1714.8,158.1 L1715.6,142.5 L1717.2,126.3 L1717.8,123.0 L1718.3,122.0 L1718.8,122.8 L1719.2,124.5 L1720.4,134.3 L1721.0,141.4 L1721.6,157.3 L1722.4,190.9 L1723.6,265.7 L1726.0,359.2 L1728.6,511.6 L1729.8,567.9 L1731.8,639.5 L1733.8,699.9 L1736.4,766.1 L1738.2,803.5 L1742.4,870.0 L1749.4,966.6 L1752.6,1014.9 L1753.2,1021.8 L1754.2,1029.1 L1756.4,1041.7 L1761.4,1075.9 L1765.4,1098.8 L1768.2,1112.9 L1771.2,1126.4 L1774.6,1140.4 L1777.4,1150.6 L1780.0,1158.5 L1783.2,1166.9 L1786.6,1174.7 L1791.2,1184.2 L1795.8,1193.1 L1800.2,1200.8 L1804.2,1207.1 L1808.6,1213.1 L1813.6,1219.3 L1819.0,1225.4 L1825.2,1231.7 L1831.6,1237.6 L1838.8,1243.6 L1846.8,1249.8 L1853.8,1254.7 L1860.2,1258.7 L1871.6,1264.8 L1883.6,1270.1 L1916.8,1282.5 L1932.2,1287.4 L1944.4,1290.9 L1955.6,1293.8 L1962.6,1295.3 L1973.4,1297.4 L1977.8,1298.4 L2002.6,1306.7 L2019.2,1312.0 L2029.6,1315.1 L2044.4,1319.1 L2050.8,1320.5 L2062.4,1322.4 L2066.4,1322.7 L2076.0,1322.7 L2076.0,1332 L274.4,1332 Z" fill="rgb(255,170,221)" fill-opacity="0.54" stroke="none"/>
<use href="#lS1" stroke="rgb(75,75,75)" stroke-opacity="0.62" stroke-width="4.0"/>
<path d="M274.4,1102.5 L274.8,1103.1 L275.4,1106.0 L275.6,1110.3 L277.0,1180.0 L277.8,1201.4 L280.4,1256.4 L281.6,1272.5 L282.6,1282.3 L283.2,1286.0 L284.4,1290.6 L285.6,1293.7 L287.4,1297.3 L289.6,1300.8 L292.2,1304.0 L296.4,1308.1 L298.4,1309.5 L299.4,1310.5 L300.0,1311.6 L300.9,1316.0 L303.8,1315.1 L305.0,1315.1 L306.2,1315.8 L309.0,1318.6 L312.4,1321.3 L315.5,1323.4 L318.8,1325.0 L321.2,1325.8 L327.4,1326.3 L336.0,1326.5 L345.6,1325.5 L358.0,1325.2 L369.2,1325.8 L379.6,1327.1 L383.6,1327.5 L412.6,1327.4 L418.8,1326.9 L424.8,1325.8 L426.0,1325.3 L427.0,1324.5 L428.8,1322.3 L429.2,1321.5 L429.6,1319.5 L430.2,1313.7 L431.0,1300.0 L431.2,1290.0 L432.6,1125.5 L433.0,1099.9 L433.6,1157.2 L434.6,1205.7 L435.8,1243.0 L437.3,1271.0 L439.0,1288.8 L440.2,1296.7 L441.4,1302.6 L443.0,1307.5 L444.8,1311.4 L447.0,1314.5 L449.6,1317.2 L452.4,1319.2 L456.6,1320.8 L461.4,1322.0 L467.2,1322.8 L498.0,1325.4 L514.8,1325.9 L530.4,1326.0 L536.4,1325.6 L551.4,1323.8 L565.8,1323.3 L581.8,1323.2 L623.0,1324.0 L633.6,1323.7 L655.4,1321.4 L665.6,1319.9 L670.2,1319.0 L673.2,1318.1 L676.6,1316.8 L680.0,1315.1 L686.0,1311.3 L688.0,1309.8 L689.8,1308.0 L691.4,1306.2 L692.8,1304.1 L694.4,1301.2 L695.4,1299.0 L696.8,1293.1 L698.2,1284.2 L699.8,1271.2 L701.4,1255.5 L704.0,1215.0 L706.4,1189.1 L707.2,1178.4 L708.2,1159.8 L709.0,1140.0 L712.8,989.0 L715.0,874.9 L715.5,861.0 L716.0,871.3 L718.4,966.8 L721.9,1140.0 L724.6,1197.4 L725.6,1211.0 L727.0,1225.0 L729.4,1243.0 L731.8,1254.8 L733.4,1260.8 L735.0,1265.7 L737.2,1271.5 L739.2,1275.8 L741.0,1279.0 L743.2,1282.2 L745.6,1285.0 L748.6,1288.1 L751.4,1290.5 L761.4,1298.3 L763.6,1299.8 L765.6,1301.0 L772.2,1303.6 L779.4,1305.8 L789.2,1307.8 L800.0,1309.5 L810.0,1310.6 L819.0,1311.4 L841.4,1312.6 L857.2,1313.7 L864.2,1314.4 L877.6,1316.3 L890.4,1317.1 L899.2,1317.4 L907.2,1317.5 L931.0,1316.9 L936.6,1316.1 L949.2,1313.1 L963.2,1310.9 L970.2,1310.3 L986.8,1310.1 L995.0,1310.6 L1027.4,1313.8 L1041.8,1314.8 L1050.4,1315.1 L1073.4,1315.1 L1081.0,1315.5 L1091.6,1316.6 L1107.2,1319.1 L1118.8,1320.3 L1126.2,1321.6 L1129.0,1322.0 L1134.4,1321.9 L1140.0,1321.5 L1145.6,1320.8 L1150.6,1319.8 L1152.6,1318.7 L1154.6,1316.9 L1156.8,1313.9 L1158.6,1310.7 L1159.6,1307.6 L1160.6,1303.4 L1162.0,1296.0 L1162.8,1290.7 L1163.8,1281.1 L1164.4,1272.6 L1166.2,1231.9 L1168.2,1196.7 L1170.6,1164.5 L1171.0,1160.4 L1171.4,1158.7 L1171.8,1160.6 L1172.2,1165.0 L1176.2,1218.1 L1178.4,1240.6 L1179.8,1251.8 L1180.9,1258.8 L1182.8,1267.5 L1184.6,1273.5 L1186.6,1278.5 L1188.8,1282.7 L1192.0,1287.1 L1193.6,1288.8 L1195.1,1290.1 L1198.4,1292.1 L1202.0,1293.7 L1205.0,1294.7 L1212.6,1296.7 L1221.8,1300.2 L1224.4,1300.9 L1229.4,1301.6 L1243.8,1303.1 L1257.0,1303.9 L1280.0,1304.7 L1298.0,1305.0 L1401.0,1305.0 L1416.4,1305.2 L1437.6,1305.7 L1487.0,1307.6 L1540.0,1309.3 L1573.2,1310.0 L1587.2,1309.8 L1593.6,1309.4 L1600.0,1308.7 L1608.2,1307.4 L1616.6,1305.8 L1621.2,1304.7 L1624.6,1303.3 L1628.4,1301.1 L1632.4,1298.0 L1636.4,1294.1 L1640.4,1289.5 L1642.4,1286.6 L1644.4,1282.9 L1646.4,1278.3 L1648.2,1273.3 L1650.2,1266.8 L1652.0,1260.0 L1653.6,1251.1 L1655.8,1232.9 L1659.0,1200.0 L1661.2,1173.0 L1666.2,1101.3 L1671.8,1030.9 L1675.4,979.9 L1678.0,948.4 L1685.8,860.8 L1688.2,829.6 L1690.4,796.9 L1694.6,723.7 L1697.2,666.0 L1698.6,626.5 L1700.0,579.2 L1701.4,510.3 L1703.5,456.4 L1704.4,441.6 L1706.4,416.4 L1708.0,403.6 L1708.6,400.5 L1709.1,399.5 L1709.6,400.6 L1710.0,402.7 L1711.6,415.7 L1713.6,441.7 L1714.5,456.4 L1722.6,674.3 L1724.8,727.0 L1726.6,763.3 L1727.8,782.9 L1729.4,802.7 L1731.6,834.4 L1739.2,954.8 L1742.4,997.7 L1744.2,1016.5 L1746.4,1033.6 L1751.6,1067.5 L1756.0,1091.9 L1760.6,1113.9 L1766.0,1136.0 L1770.2,1150.8 L1774.4,1162.5 L1777.6,1170.1 L1781.4,1178.1 L1786.2,1187.2 L1790.8,1195.1 L1795.0,1201.7 L1799.2,1207.6 L1803.8,1213.3 L1808.8,1218.9 L1815.8,1226.0 L1826.6,1236.3 L1833.8,1242.8 L1840.4,1248.1 L1845.4,1251.8 L1850.8,1255.2 L1872.6,1267.7 L1880.4,1271.8 L1889.0,1275.8 L1901.8,1281.4 L1913.4,1286.1 L1924.6,1290.4 L1935.4,1294.2 L1944.4,1297.1 L1955.2,1300.3 L2017.2,1317.6 L2035.0,1321.8 L2048.6,1324.5 L2054.6,1325.4 L2065.8,1326.1 L2076.0,1326.3 L2076.0,1332 L274.4,1332 Z" fill="rgb(206,253,206)" fill-opacity="0.92" stroke="none"/>
<g clip-path="url(#cS2)"><use href="#lS1" stroke="rgb(75,75,75)" stroke-opacity="0.35" stroke-width="3.4"/></g>
<use href="#lS2" stroke="#f14040" stroke-opacity="1" stroke-width="4.4"/>
<path d="M274.4,1222.0 L276.0,1239.8 L278.2,1278.1 L279.2,1290.7 L280.4,1300.5 L281.4,1305.2 L282.6,1309.0 L284.4,1312.7 L286.8,1315.8 L289.8,1318.5 L294.0,1321.2 L295.6,1322.0 L296.8,1322.3 L297.8,1322.2 L300.4,1321.4 L301.4,1321.5 L302.4,1322.0 L304.8,1323.9 L309.0,1326.3 L311.4,1327.3 L314.6,1328.2 L318.2,1329.0 L321.8,1329.5 L330.0,1330.1 L338.4,1330.5 L367.6,1330.8 L391.0,1330.2 L394.4,1329.9 L397.8,1329.2 L401.6,1328.1 L405.4,1326.8 L408.6,1324.9 L412.6,1321.4 L414.6,1319.0 L416.6,1316.0 L418.6,1312.4 L420.0,1309.3 L421.2,1306.0 L422.4,1301.7 L424.2,1292.2 L425.2,1282.8 L426.2,1268.0 L428.2,1222.0 L428.8,1210.1 L429.2,1206.5 L430.6,1248.3 L431.8,1274.0 L433.0,1290.8 L434.4,1302.5 L435.4,1306.9 L436.6,1310.9 L437.6,1313.4 L438.8,1315.4 L440.2,1317.1 L442.0,1318.8 L448.2,1323.4 L450.8,1325.0 L456.2,1326.8 L462.8,1328.2 L473.8,1329.5 L484.0,1330.2 L502.8,1330.6 L519.6,1330.8 L566.0,1330.8 L592.0,1330.2 L601.2,1329.6 L612.4,1328.5 L618.2,1327.6 L624.8,1326.2 L632.4,1324.4 L638.8,1322.3 L646.2,1319.5 L652.0,1316.7 L659.6,1312.3 L662.4,1310.3 L665.2,1308.0 L667.8,1305.5 L670.2,1302.9 L672.4,1300.0 L673.8,1297.7 L682.4,1278.4 L685.2,1271.0 L687.0,1264.6 L689.2,1255.3 L690.8,1248.0 L692.2,1240.4 L694.3,1225.0 L695.8,1209.4 L699.6,1142.3 L700.4,1116.6 L702.6,1019.8 L703.4,1003.4 L703.8,998.1 L704.3,995.3 L704.6,996.4 L705.0,1000.7 L705.8,1013.9 L708.4,1085.9 L710.0,1122.4 L711.2,1144.9 L713.6,1180.2 L715.4,1201.9 L717.4,1219.8 L719.8,1235.9 L722.0,1247.8 L725.0,1259.1 L726.6,1263.9 L728.4,1268.5 L730.2,1272.5 L732.2,1276.3 L736.6,1283.0 L738.6,1285.4 L740.6,1287.4 L743.6,1289.8 L746.8,1291.8 L749.8,1293.2 L753.6,1294.7 L759.0,1296.3 L767.2,1298.2 L805.2,1305.7 L810.6,1306.5 L818.0,1307.3 L827.0,1307.9 L841.8,1308.6 L851.2,1309.7 L861.4,1311.6 L880.0,1316.3 L889.2,1318.3 L895.0,1319.4 L899.8,1320.0 L909.2,1320.5 L918.6,1320.7 L924.8,1320.6 L931.4,1320.2 L941.8,1319.1 L957.6,1314.1 L965.0,1312.9 L970.9,1312.5 L993.4,1312.9 L1027.8,1314.6 L1057.6,1315.9 L1072.0,1316.9 L1082.4,1318.0 L1096.4,1319.8 L1103.2,1321.1 L1110.4,1323.5 L1116.0,1327.0 L1117.4,1327.4 L1118.6,1327.5 L1122.2,1327.0 L1124.0,1326.5 L1124.8,1326.1 L1125.8,1325.1 L1126.8,1323.8 L1129.4,1319.2 L1131.0,1314.7 L1133.8,1305.2 L1144.2,1266.0 L1145.0,1264.0 L1146.6,1261.4 L1147.8,1259.9 L1148.8,1259.3 L1149.4,1259.3 L1150.2,1259.7 L1151.8,1261.4 L1154.6,1265.2 L1158.2,1271.1 L1161.2,1275.5 L1163.6,1278.7 L1165.6,1281.0 L1168.8,1284.0 L1171.6,1286.3 L1175.0,1288.4 L1178.6,1290.4 L1182.0,1291.8 L1186.6,1293.2 L1191.4,1294.4 L1195.8,1295.2 L1204.2,1296.2 L1211.4,1296.8 L1228.6,1297.2 L1238.6,1297.1 L1253.6,1296.5 L1271.0,1295.2 L1301.4,1293.3 L1316.6,1292.2 L1330.2,1290.7 L1366.6,1286.0 L1382.8,1284.0 L1396.8,1282.5 L1415.2,1281.0 L1423.4,1280.1 L1435.6,1278.0 L1455.4,1273.5 L1482.4,1266.1 L1496.6,1261.8 L1508.0,1257.7 L1516.6,1254.1 L1523.4,1250.7 L1530.4,1246.2 L1542.0,1237.5 L1550.8,1230.2 L1562.2,1219.5 L1571.6,1209.7 L1577.8,1202.3 L1583.4,1194.7 L1590.0,1184.6 L1595.6,1175.1 L1602.2,1162.4 L1608.4,1149.5 L1613.4,1137.8 L1618.0,1125.7 L1621.2,1116.3 L1624.2,1106.7 L1627.0,1096.9 L1629.6,1086.8 L1632.2,1075.6 L1635.0,1062.3 L1637.2,1050.8 L1639.2,1039.0 L1641.4,1023.1 L1649.2,958.4 L1660.2,863.5 L1666.2,808.7 L1669.0,785.8 L1670.4,776.1 L1672.0,768.3 L1672.8,765.5 L1673.8,763.1 L1674.6,761.6 L1675.2,761.2 L1675.6,761.4 L1676.2,762.1 L1677.4,764.5 L1678.2,767.3 L1679.2,772.0 L1680.4,779.8 L1683.2,801.7 L1690.6,871.8 L1699.8,970.8 L1703.4,1003.0 L1705.4,1016.6 L1708.8,1033.0 L1713.2,1060.0 L1718.4,1089.9 L1722.8,1111.3 L1727.0,1128.6 L1731.8,1145.3 L1738.0,1163.8 L1741.8,1173.3 L1746.4,1182.4 L1751.8,1191.4 L1759.8,1203.3 L1764.8,1210.0 L1769.6,1215.9 L1775.4,1222.1 L1781.6,1228.2 L1788.0,1233.8 L1795.6,1239.9 L1802.8,1245.1 L1809.6,1249.5 L1815.6,1252.9 L1822.2,1256.3 L1844.6,1266.7 L1880.0,1282.2 L1908.6,1293.6 L1920.4,1297.9 L1934.6,1302.3 L1947.6,1305.8 L2001.0,1319.1 L2015.8,1323.5 L2027.2,1326.4 L2035.8,1329.8 L2039.2,1330.7 L2042.2,1331.0 L2046.8,1330.6 L2051.0,1330.0 L2056.0,1328.3 L2058.0,1327.8 L2067.8,1326.6 L2076.0,1326.2 L2076.0,1332 L274.4,1332 Z" fill="rgb(212,255,255)" fill-opacity="0.85" stroke="none"/>
<g clip-path="url(#cS3)"><use href="#lS1" stroke="rgb(75,75,75)" stroke-opacity="0.3" stroke-width="3.2"/><use href="#lS2" stroke="#f14040" stroke-opacity="0.38" stroke-width="3.4"/></g>
<use href="#lS3" stroke="#1a6fdf" stroke-opacity="1" stroke-width="4.4"/>
<path d="M274.4,1214.3 L275.0,1217.7 L275.6,1225.1 L277.4,1269.4 L278.2,1284.1 L279.4,1298.9 L280.6,1306.0 L281.4,1309.1 L282.4,1311.7 L283.8,1314.4 L285.4,1316.5 L287.4,1318.6 L289.8,1320.4 L291.8,1321.7 L294.8,1323.0 L296.3,1323.9 L298.2,1326.8 L298.8,1327.3 L299.4,1326.9 L300.8,1324.4 L301.4,1323.9 L303.2,1324.1 L307.2,1325.0 L311.0,1325.4 L331.4,1327.2 L342.4,1328.0 L361.0,1328.7 L381.4,1328.5 L388.8,1328.2 L399.2,1326.9 L402.2,1326.1 L405.2,1325.0 L409.8,1322.7 L411.6,1321.3 L413.4,1319.7 L416.4,1316.2 L419.0,1311.2 L421.2,1305.5 L423.0,1298.8 L424.6,1291.2 L427.4,1275.0 L427.8,1273.3 L428.2,1272.6 L428.6,1273.2 L429.2,1275.6 L432.4,1294.6 L434.4,1304.5 L435.6,1309.0 L437.2,1313.0 L438.4,1315.4 L439.4,1316.9 L441.2,1318.8 L443.0,1320.4 L444.4,1321.2 L446.0,1322.0 L451.4,1323.4 L459.2,1324.8 L465.6,1325.4 L477.2,1326.1 L493.6,1326.7 L529.8,1327.1 L564.6,1327.1 L583.0,1326.7 L591.0,1326.3 L602.0,1325.2 L615.0,1323.4 L623.8,1321.7 L631.0,1320.2 L638.6,1318.1 L645.2,1316.0 L652.2,1313.3 L659.8,1309.7 L664.2,1307.1 L667.8,1304.4 L669.6,1302.5 L672.4,1299.0 L676.8,1292.8 L681.0,1285.8 L684.4,1278.9 L686.8,1273.0 L688.8,1267.0 L691.2,1258.2 L693.2,1249.6 L696.4,1232.4 L702.6,1189.8 L703.2,1186.8 L703.8,1184.9 L704.4,1183.5 L704.8,1183.2 L705.4,1183.8 L706.0,1185.3 L706.8,1187.8 L707.4,1190.7 L713.2,1231.2 L715.4,1243.0 L717.2,1250.5 L719.8,1259.6 L722.0,1266.2 L724.0,1271.1 L727.0,1277.1 L730.4,1282.5 L734.6,1288.2 L738.8,1292.9 L743.0,1296.5 L747.8,1299.8 L756.2,1304.8 L761.4,1307.2 L765.4,1308.3 L770.4,1309.4 L794.0,1313.2 L806.4,1314.6 L820.2,1315.6 L833.4,1316.2 L842.0,1316.4 L862.6,1316.2 L901.2,1315.4 L909.6,1315.5 L930.4,1316.2 L949.4,1315.4 L976.8,1315.5 L1011.6,1317.4 L1049.6,1320.7 L1084.8,1323.3 L1090.8,1323.9 L1099.0,1325.5 L1111.2,1325.4 L1114.2,1324.5 L1118.6,1322.2 L1120.6,1320.9 L1122.8,1319.0 L1126.0,1315.8 L1128.6,1312.6 L1133.0,1306.4 L1137.8,1299.2 L1142.0,1293.4 L1143.2,1292.3 L1145.0,1291.3 L1147.2,1290.3 L1149.2,1289.7 L1152.0,1289.7 L1156.0,1290.4 L1160.6,1291.6 L1167.6,1294.2 L1172.4,1295.7 L1177.8,1297.1 L1182.4,1298.0 L1188.8,1299.0 L1194.0,1299.6 L1210.6,1300.3 L1225.6,1300.3 L1245.4,1299.8 L1262.6,1298.7 L1303.2,1296.5 L1318.6,1295.3 L1332.8,1294.1 L1350.6,1292.1 L1409.8,1284.4 L1427.8,1281.5 L1446.4,1277.9 L1457.0,1275.5 L1468.6,1272.6 L1483.8,1268.4 L1494.0,1265.4 L1501.6,1262.8 L1508.6,1260.1 L1516.0,1256.9 L1523.2,1253.4 L1534.2,1247.2 L1549.0,1237.7 L1559.0,1230.6 L1568.0,1223.2 L1577.4,1214.4 L1586.4,1204.9 L1594.8,1194.8 L1602.8,1183.9 L1609.8,1173.0 L1616.8,1160.8 L1622.4,1149.7 L1628.4,1136.6 L1632.2,1127.6 L1635.4,1119.4 L1652.8,1071.1 L1658.2,1056.8 L1661.4,1049.3 L1665.4,1041.3 L1667.8,1037.5 L1668.9,1036.4 L1671.8,1034.3 L1673.4,1033.6 L1675.0,1033.3 L1676.0,1033.6 L1677.2,1034.3 L1679.8,1037.3 L1683.0,1042.0 L1685.4,1047.3 L1690.6,1062.1 L1696.4,1083.1 L1700.4,1096.4 L1707.6,1118.9 L1713.0,1134.8 L1718.4,1148.9 L1723.0,1159.8 L1727.2,1168.4 L1732.0,1177.1 L1739.2,1188.5 L1747.2,1200.0 L1755.0,1210.0 L1763.0,1219.1 L1772.8,1229.0 L1783.8,1239.0 L1794.4,1247.9 L1807.0,1257.4 L1814.6,1262.8 L1822.0,1267.8 L1838.8,1278.1 L1854.6,1286.8 L1863.2,1291.1 L1871.6,1295.0 L1886.0,1301.0 L1901.2,1306.5 L1923.6,1313.2 L1942.6,1318.4 L1991.2,1330.1 L1995.6,1330.9 L2002.6,1331.4 L2007.2,1331.5 L2011.6,1331.3 L2018.8,1330.6 L2029.4,1329.1 L2034.6,1328.5 L2076.0,1325.3 L2076.0,1332 L274.4,1332 Z" fill="rgb(197,211,253)" fill-opacity="1.0" stroke="none"/>
<g clip-path="url(#cS4)"><use href="#lS3" stroke="#1a6fdf" stroke-opacity="0.5" stroke-width="4.4"/></g>
<use href="#lS4" stroke="#37ad6b" stroke-opacity="1" stroke-width="4.4"/>
</g>
<rect x="417.1" y="155.7" width="135.7" height="66.1" fill="rgb(255,210,237)" stroke="rgb(75,75,75)" stroke-opacity="0.55" stroke-width="4"/>
<rect x="417.1" y="232.8" width="135.7" height="66.1" fill="rgb(210,255,210)" stroke="#f14040" stroke-opacity="0.55" stroke-width="4"/>
<rect x="417.1" y="309.9" width="135.7" height="66.1" fill="rgb(210,255,255)" stroke="#1a6fdf" stroke-opacity="0.55" stroke-width="4"/>
<rect x="417.1" y="387.0" width="135.7" height="66.1" fill="rgb(234,210,255)" stroke="#37ad6b" stroke-opacity="0.55" stroke-width="4"/>
<text transform="translate(569.90,208.90) scale(1,1.025)" font-family="'Liberation Serif', serif" font-size="62.3" text-anchor="start" fill="#000">Specimen 1</text>
<text transform="translate(569.90,286.00) scale(1,1.025)" font-family="'Liberation Serif', serif" font-size="62.3" text-anchor="start" fill="#000">Specimen 2</text>
<text transform="translate(569.90,363.10) scale(1,1.025)" font-family="'Liberation Serif', serif" font-size="62.3" text-anchor="start" fill="#000">Specimen 3</text>
<text transform="translate(569.90,440.20) scale(1,1.025)" font-family="'Liberation Serif', serif" font-size="62.3" text-anchor="start" fill="#000">Specimen 4</text>
</svg>
</body></html>
